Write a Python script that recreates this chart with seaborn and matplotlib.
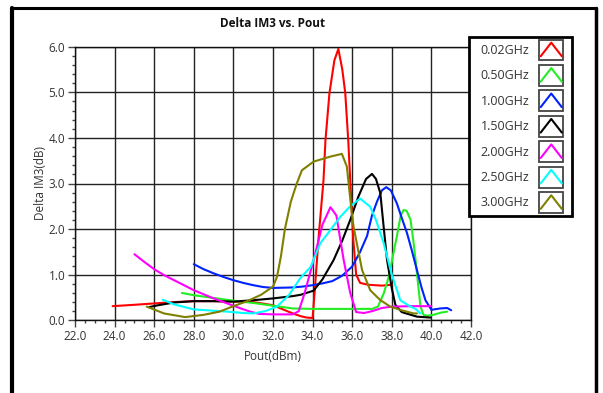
import numpy as np
import pandas as pd
import matplotlib
matplotlib.use("Agg")
import matplotlib.pyplot as plt
import seaborn as sns
from matplotlib.lines import Line2D
from matplotlib.patches import Rectangle
from matplotlib.legend_handler import HandlerBase
from matplotlib.ticker import MultipleLocator, FormatStrFormatter

# values
freqs = ["0.02GHz", "0.50GHz", "1.00GHz", "1.50GHz", "2.00GHz", "2.50GHz", "3.00GHz"]
colors = ["#ff0000", "#22ee22", "#0022ff", "#000000", "#ff00ff", "#00ffff", "#808000"]

x_002 = [23.9, 25, 26, 27, 28, 29, 30, 31, 32, 32.5, 33, 33.4, 33.7, 34.0, 34.1, 34.3, 34.55, 34.65,
         34.85, 35.1, 35.3, 35.5, 35.65, 35.8, 35.9, 36.05, 36.2, 36.4, 36.8, 37.5, 38.0]
y_002 = [0.31, 0.34, 0.37, 0.40, 0.42, 0.42, 0.41, 0.40, 0.33, 0.24, 0.15, 0.09, 0.06, 0.05, 0.6, 1.8,
         3.07, 3.95, 4.98, 5.7, 5.95, 5.5, 4.98, 3.95, 3.07, 1.8, 1.0, 0.82, 0.78, 0.76, 0.78]

x_050 = [27.4, 28, 29, 30, 31, 32, 33, 34, 35, 36, 37, 37.3, 37.6, 37.85, 38.05, 38.25, 38.45, 38.6,
         38.75, 38.95, 39.1, 39.2, 39.35, 39.45, 39.6, 39.8, 40.1, 40.5, 40.8]
y_050 = [0.6, 0.55, 0.49, 0.43, 0.38, 0.32, 0.26, 0.25, 0.25, 0.25, 0.25, 0.3, 0.6, 0.96, 1.4, 1.83,
         2.3, 2.42, 2.4, 2.2, 1.7, 1.32, 0.7, 0.3, 0.12, 0.1, 0.12, 0.17, 0.19]

x_100 = [28.0, 28.5, 29, 29.5, 30, 30.5, 31, 31.5, 32, 33, 33.5, 34, 34.5, 35, 35.5, 36.0, 36.4, 36.75,
         37.0, 37.25, 37.5, 37.72, 37.95, 38.25, 38.5, 38.77, 39.0, 39.27, 39.5, 39.7, 40.0, 40.45, 40.8, 41.0]
y_100 = [1.23, 1.12, 1.03, 0.95, 0.88, 0.82, 0.77, 0.73, 0.71, 0.72, 0.74, 0.77, 0.81, 0.86, 0.98, 1.18,
         1.5, 1.85, 2.3, 2.6, 2.85, 2.92, 2.85, 2.57, 2.25, 1.91, 1.55, 1.1, 0.72, 0.44, 0.23, 0.26, 0.27, 0.22]

x_150 = [25.75, 26.2, 27, 28, 29, 30, 31, 32, 33, 33.4, 34.05, 34.5, 35.06, 35.5, 35.9, 36.3, 36.7, 37.0,
         37.2, 37.42, 37.6, 37.76, 38.0, 38.18, 38.5, 39.27, 39.95]
y_150 = [0.29, 0.33, 0.39, 0.42, 0.42, 0.41, 0.44, 0.48, 0.53, 0.56, 0.65, 0.9, 1.32, 1.75, 2.2, 2.7, 3.1,
         3.21, 3.1, 2.79, 2.0, 1.32, 0.7, 0.34, 0.18, 0.08, 0.06]

x_200 = [25.0, 25.5, 26, 26.5, 27, 27.5, 28, 28.5, 29, 29.5, 30, 30.5, 30.85, 31.3, 32, 33, 33.3, 33.6,
         34.05, 34.5, 34.9, 35.2, 35.57, 35.9, 36.2, 36.6, 37, 37.5, 38, 39, 40.0]
y_200 = [1.45, 1.28, 1.12, 0.99, 0.88, 0.77, 0.66, 0.57, 0.48, 0.4, 0.32, 0.24, 0.19, 0.14, 0.13, 0.13,
         0.2, 0.6, 1.32, 2.1, 2.48, 2.3, 1.32, 0.6, 0.18, 0.16, 0.2, 0.27, 0.3, 0.31, 0.31]

x_250 = [26.43, 27, 27.98, 29, 29.67, 30.5, 31.0, 31.6, 32.2, 32.8, 33.37, 33.9, 34.39, 34.9, 35.4, 35.9,
         36.4, 36.91, 37.2, 37.59, 38.0, 38.43, 38.94, 39.2, 39.44]
y_250 = [0.45, 0.35, 0.24, 0.21, 0.19, 0.16, 0.15, 0.2, 0.3, 0.55, 0.92, 1.17, 1.69, 1.98, 2.27, 2.5,
         2.67, 2.49, 2.2, 1.69, 1.0, 0.44, 0.3, 0.25, 0.15]

x_300 = [25.62, 26.5, 27.56, 28.5, 29.3, 30, 30.7, 31.4, 32.0, 32.2, 32.4, 32.6, 32.9, 33.2, 33.46, 34.05,
         34.9, 35.48, 35.73, 35.98, 36.07, 36.5, 36.91, 37.4, 37.92, 38.5, 39.1, 39.27]
y_300 = [0.3, 0.15, 0.07, 0.12, 0.19, 0.31, 0.42, 0.56, 0.74, 0.95, 1.4, 2.0, 2.6, 3.0, 3.29, 3.48,
         3.59, 3.65, 3.37, 2.35, 2.05, 1.1, 0.66, 0.45, 0.3, 0.22, 0.15, 0.15]

series_x = [x_002, x_050, x_100, x_150, x_200, x_250, x_300]
series_y = [y_002, y_050, y_100, y_150, y_200, y_250, y_300]

df = pd.concat([pd.DataFrame({"Pout": xs, "dIM3": ys, "freq": f})
                for f, xs, ys in zip(freqs, series_x, series_y)], ignore_index=True)


class CaretHandler(HandlerBase):
    # legend key: caret drawn in a small square box
    def create_artists(self, legend, orig_handle, xdescent, ydescent, width, height, fontsize, trans):
        x0, y0 = -xdescent, -ydescent
        box = Rectangle((x0, y0), width, height, facecolor="white", edgecolor="#444444",
                        lw=1.3, transform=trans)
        line = Line2D([x0 + width * 0.06, x0 + width * 0.5, x0 + width * 0.94],
                      [y0 + height * 0.2, y0 + height * 0.85, y0 + height * 0.2],
                      color=orig_handle.get_color(), lw=1.5, transform=trans)
        return [box, line]


sns.set_style("white")
plt.rcParams["font.family"] = ["Open Sans", "DejaVu Sans"]

W, H = 603, 393
fig = plt.figure(figsize=(W / 100, H / 100), dpi=100)
ax = fig.add_axes([75 / W, 1 - 320.3 / H, (471 - 75) / W, (320.3 - 46.7) / H])

sns.lineplot(data=df, x="Pout", y="dIM3", hue="freq", hue_order=freqs,
             palette=dict(zip(freqs, colors)), sort=False, estimator=None,
             linewidth=1.5, ax=ax)

handles, labels = ax.get_legend_handles_labels()
ax.get_legend().remove()

ax.set_xlim(22, 42)
ax.set_ylim(0, 6)
ax.xaxis.set_major_locator(MultipleLocator(2))
ax.xaxis.set_minor_locator(MultipleLocator(0.5))
ax.yaxis.set_major_locator(MultipleLocator(1))
ax.yaxis.set_minor_locator(MultipleLocator(0.2))
ax.xaxis.set_major_formatter(FormatStrFormatter("%.1f"))
ax.yaxis.set_major_formatter(FormatStrFormatter("%.1f"))
ax.grid(True, which="major", color="#222222", lw=1)
ax.tick_params(which="major", direction="out", length=5, width=1, color="#444444",
               labelsize=8.5, labelcolor="#333333", bottom=True, left=True, pad=2)
ax.tick_params(which="minor", direction="out", length=2.5, width=1, color="#444444",
               bottom=True, left=True)
for s in ax.spines.values():
    s.set_color("#111111")
    s.set_linewidth(1)

ax.set_xlabel("Pout(dBm)", fontsize=8.5, color="#333333", labelpad=5)
ax.set_ylabel("Delta IM3(dB)", fontsize=8.5, color="#333333", labelpad=1)
ax.set_title("Delta IM3 vs. Pout", fontsize=8.5, fontweight="bold", color="#111111", pad=14)

# legend frame drawn separately so the inner padding can match the reference
fig.add_artist(Rectangle((469 / W, 1 - 216 / H), 103 / W, 179 / H, transform=fig.transFigure,
                         facecolor="white", edgecolor="black", lw=2, zorder=3))
leg = fig.legend(handles, labels, loc="upper left", bbox_to_anchor=(478 / W, 1 - 37 / H),
                 handler_map={Line2D: CaretHandler()}, markerfirst=False, fontsize=9,
                 handlelength=1.92, handleheight=2.2, labelspacing=0.36, handletextpad=0.8,
                 borderpad=0.2, borderaxespad=0, frameon=False)
leg.set_zorder(4)
for t in leg.get_texts():
    t.set_color("#333333")

# outer black frame of the screenshot panel
fig.add_artist(Line2D([12 / W, 12 / W], [0, 1 - 7.5 / H], transform=fig.transFigure, color="black", lw=3))
fig.add_artist(Line2D([12 / W, 595.5 / W], [1 - 8 / H, 1 - 8 / H], transform=fig.transFigure, color="black", lw=2.2))
fig.add_artist(Line2D([595.5 / W, 595.5 / W], [0, 1 - 8 / H], transform=fig.transFigure, color="black", lw=2.5))

fig.savefig("out.png", dpi=100)
